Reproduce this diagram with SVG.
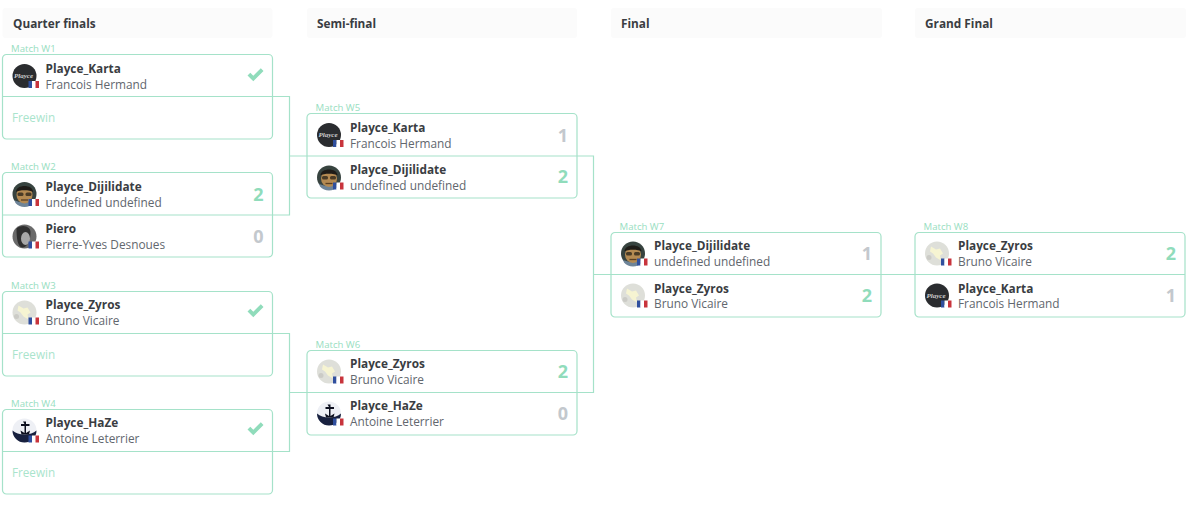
<svg xmlns="http://www.w3.org/2000/svg" width="1200" height="519" viewBox="0 0 1200 519">
<style>
text{font-family:"Open Sans","Noto Sans","Liberation Sans",sans-serif}
.hd{fill:#fbfbfb}
.ht{font-size:11.8px;font-weight:700;fill:#3a3d42}
.ml{font-size:9.6px;fill:#98dec1}
.card{fill:#fff;stroke:#a5e2c9;stroke-width:1.2}
.div{stroke:#a5e2c9;stroke-width:1.2;fill:none}
.nm{font-size:11.8px;font-weight:700;fill:#3a3d42}
.sb{font-size:11.85px;fill:#62676e}
.fw{font-size:11.7px;fill:#a9e4cc}
.win{font-size:18px;font-weight:700;fill:#90dcbb;text-anchor:end}
.los{font-size:18px;font-weight:700;fill:#c3c8cd;text-anchor:end}
.logo{font-family:"Liberation Serif",serif;font-size:7px;font-weight:700;font-style:italic;fill:#cfcfcf;text-anchor:middle}
</style>
<defs>
<g id="flag"><rect x="4" y="5" width="3.500" height="7" fill="#2f4f9e"/><rect x="7.500" y="5" width="3.500" height="7" fill="#fff"/><rect x="11" y="5" width="3.500" height="7" fill="#c8343c"/></g>
<g id="a-karta"><circle r="12" fill="#2a2c2f"/><text class="logo" x="-1" y="2">Playce</text><use href="#flag"/></g>
<g id="a-diji"><circle r="12" fill="#37433f"/><path d="M-10 6c3 3 17 3 20 0l-1 3a12 12 0 0 1-18 0z" fill="#6e8498"/><ellipse cx="0" cy="1" rx="8" ry="8.500" fill="#b48a52"/><path d="M-8.500-2c0-8 17-8 17 0c-3-2.500-14-2.500-17 0z" fill="#1f1c18"/><rect x="-7" y="-1.500" width="6" height="3.500" rx="1.500" fill="#4a3b26"/><rect x="1" y="-1.500" width="6" height="3.500" rx="1.500" fill="#4a3b26"/><path d="M-3.500 6h7" stroke="#5a3f22" stroke-width="1.300"/><use href="#flag"/></g>
<g id="a-piero"><circle r="12" fill="#6a6a6a"/><path d="M-8-8c6-5 15-2 14 5c0 8-4 14-8 14c-5 0-6-10-6-19z" fill="#303030"/><ellipse cx="1" cy="2" rx="4.500" ry="6.500" fill="#a8a8a8"/><use href="#flag"/></g>
<g id="a-zyros"><circle r="12" fill="#dedfd9"/><path d="M-6-7l5 3l4-1l3 5l-3 2l1 5l-5-3l-3-4l-3-2z" fill="#f6f4d2"/><circle cx="-8" cy="4" r="2.500" fill="#cbcbc6"/><use href="#flag"/></g>
<g id="a-haze"><circle r="12" fill="#eef0f5"/><path d="M-12 0a12 12 0 0 0 24 0c-3 2.500-7 4-12 4s-9-1.500-12-4z" fill="#18213f"/><path d="M-1.500-9h3v2.500h3.500v2h-3.500v7l4-2.500l-1 4h-7.500l-1-4l4 2.500v-7h-3.500v-2h3.500z" fill="#0c0f1e"/><use href="#flag"/></g>
<path id="chk" d="M0 6l2.800-2.800l3 3l7.500-7.500l2.700 2.700l-10.200 10.300z" fill="#90dcbb"/>
</defs>
<rect width="1200" height="519" fill="#fff"/>

<g id="headers">
<rect class="hd" x="2.500" y="8" width="270" height="30" rx="3"/><text class="ht" x="13" y="28">Quarter finals</text>
<rect class="hd" x="307" y="8" width="270" height="30" rx="3"/><text class="ht" x="317" y="28">Semi-final</text>
<rect class="hd" x="611" y="8" width="271" height="30" rx="3"/><text class="ht" x="621" y="28">Final</text>
<rect class="hd" x="915" y="8" width="271" height="30" rx="3"/><text class="ht" x="925" y="28">Grand Final</text>
</g>

<g id="W1" transform="translate(2.500 54.500)">
<text class="ml" x="8.500" y="-3">Match W1</text><rect class="card" width="270" height="84.500" rx="4"/>
<use href="#a-karta" x="22" y="21.500"/><text class="nm" x="43" y="18.500">Playce_Karta</text><text class="sb" x="43" y="34.500">Francois Hermand</text>
<use href="#chk" x="245" y="15"/><text class="fw" x="9.500" y="67.500">Freewin</text>
</g>
<g id="W2" transform="translate(2.500 172.500)">
<text class="ml" x="8.500" y="-3">Match W2</text><rect class="card" width="270" height="84.500" rx="4"/>
<use href="#a-diji" x="22" y="21.500"/><text class="nm" x="43" y="18.500">Playce_Dijilidate</text><text class="sb" x="43" y="34.500">undefined undefined</text><text class="win" x="261" y="28">2</text>
<use href="#a-piero" x="22" y="64"/><text class="nm" x="43" y="60.500">Piero</text><text class="sb" x="43" y="76.500">Pierre-Yves Desnoues</text><text class="los" x="261" y="70">0</text>
</g>
<g id="W3" transform="translate(2.500 291.500)">
<text class="ml" x="8.500" y="-3">Match W3</text><rect class="card" width="270" height="84.500" rx="4"/>
<use href="#a-zyros" x="22" y="21"/><text class="nm" x="43" y="17.500">Playce_Zyros</text><text class="sb" x="43" y="33.500">Bruno Vicaire</text>
<use href="#chk" x="245" y="14"/><text class="fw" x="9.500" y="67">Freewin</text>
</g>
<g id="W4" transform="translate(2.500 409.500)">
<text class="ml" x="8.500" y="-3">Match W4</text><rect class="card" width="270" height="84.500" rx="4"/>
<use href="#a-haze" x="22" y="21"/><text class="nm" x="43" y="17.500">Playce_HaZe</text><text class="sb" x="43" y="33.500">Antoine Leterrier</text>
<use href="#chk" x="245" y="14"/><text class="fw" x="9.500" y="67">Freewin</text>
</g>
<g id="W5" transform="translate(307 113.500)">
<text class="ml" x="8.500" y="-3">Match W5</text><rect class="card" width="270" height="84.500" rx="4"/>
<use href="#a-karta" x="22" y="21.500"/><text class="nm" x="43" y="18.500">Playce_Karta</text><text class="sb" x="43" y="34.500">Francois Hermand</text><text class="los" x="261" y="28">1</text>
<use href="#a-diji" x="22" y="64"/><text class="nm" x="43" y="60.500">Playce_Dijilidate</text><text class="sb" x="43" y="76">undefined undefined</text><text class="win" x="261" y="69.500">2</text>
</g>
<g id="W6" transform="translate(307 350.500)">
<text class="ml" x="8.500" y="-3">Match W6</text><rect class="card" width="270" height="84.500" rx="4"/>
<use href="#a-zyros" x="22" y="21"/><text class="nm" x="43" y="17.500">Playce_Zyros</text><text class="sb" x="43" y="33.500">Bruno Vicaire</text><text class="win" x="261" y="27.500">2</text>
<use href="#a-haze" x="22" y="63"/><text class="nm" x="43" y="59.500">Playce_HaZe</text><text class="sb" x="43" y="75.500">Antoine Leterrier</text><text class="los" x="261" y="69.500">0</text>
</g>
<g id="W7" transform="translate(611 232.500)">
<text class="ml" x="8.500" y="-3">Match W7</text><rect class="card" width="270" height="84.500" rx="4"/>
<use href="#a-diji" x="22" y="21"/><text class="nm" x="43" y="17.500">Playce_Dijilidate</text><text class="sb" x="43" y="33.500">undefined undefined</text><text class="los" x="261" y="27">1</text>
<use href="#a-zyros" x="22" y="63"/><text class="nm" x="43" y="60">Playce_Zyros</text><text class="sb" x="43" y="75.500">Bruno Vicaire</text><text class="win" x="261" y="69">2</text>
</g>
<g id="W8" transform="translate(915 232.500)">
<text class="ml" x="8.500" y="-3">Match W8</text><rect class="card" width="270" height="84.500" rx="4"/>
<use href="#a-zyros" x="22" y="21"/><text class="nm" x="43" y="17.500">Playce_Zyros</text><text class="sb" x="43" y="33.500">Bruno Vicaire</text><text class="win" x="261" y="27">2</text>
<use href="#a-karta" x="22" y="63"/><text class="nm" x="43" y="60">Playce_Karta</text><text class="sb" x="43" y="75.500">Francois Hermand</text><text class="los" x="261" y="69">1</text>
</g>

<g id="connectors" class="div">
<path d="M2.500 96.500H289.500V215H2.500"/>
<path d="M2.500 333.500H289.500V451.500H2.500"/>
<path d="M289.500 156H593.500V392.500H289.500"/>
<path d="M593.500 274.500H1185"/>
</g>
</svg>
